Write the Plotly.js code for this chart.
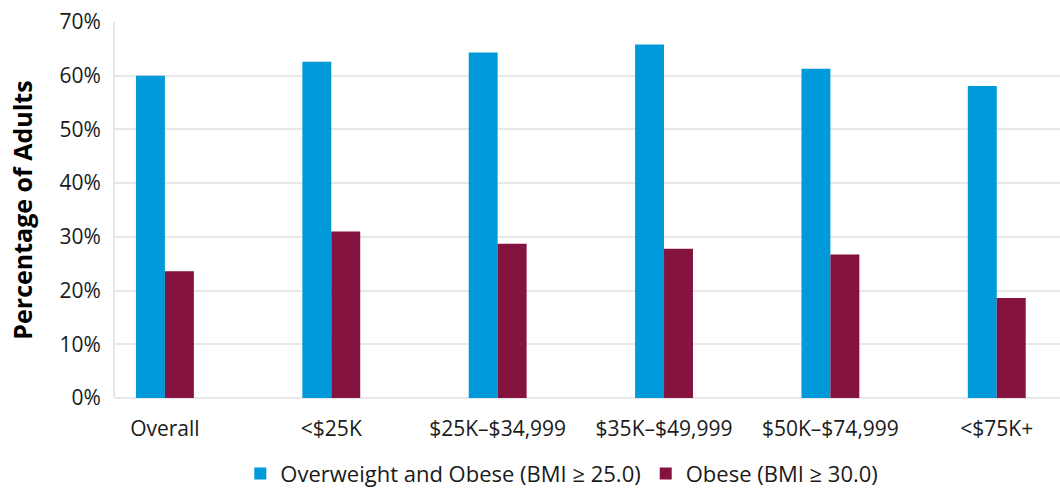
<!DOCTYPE html>
<html>
<head>
<meta charset="utf-8">
<script src="https://cdn.plot.ly/plotly-3.0.1.min.js"></script>
<style>html,body{margin:0;padding:0;background:#fff;}#chart{width:1060px;height:491px;}</style>
</head>
<body>
<div id="chart"></div>
<script>
const categories = ["Overall", "<$25K", "$25K–$34,999", "$35K–$49,999", "$50K–$74,999", "<$75K+"];
const overweightObese = [60.0, 62.6, 64.3, 65.8, 61.3, 58.1];
const obese = [23.6, 31.0, 28.7, 27.8, 26.7, 18.6];
const seriesNames = ["Overweight and Obese (BMI ≥ 25.0)", "Obese (BMI ≥ 30.0)"];
const yTickVals = [0, 10, 20, 30, 40, 50, 60, 70];
const yTickText = ["0%", "10%", "20%", "30%", "40%", "50%", "60%", "70%"];

const fontFam = "'Open Sans', 'Noto Sans', sans-serif";

const traces = [
  {type: "bar", x: categories, y: overweightObese, name: seriesNames[0],
   marker: {color: "#0099da"}, hoverinfo: "y"},
  {type: "bar", x: categories, y: obese, name: seriesNames[1],
   marker: {color: "#85133f"}, hoverinfo: "y"}
];

const layout = {
  width: 1060, height: 491,
  margin: {l: 115, r: 0, t: 22, b: 93, autoexpand: false},
  paper_bgcolor: "#fff", plot_bgcolor: "#fff",
  font: {family: fontFam, color: "#1a1a1a", size: 20},
  barmode: "group", bargap: 0.652, bargroupgap: 0,
  xaxis: {
    type: "category", range: [-0.3, 5.38],
    showgrid: false, zeroline: false, showline: false,
    ticks: "", ticklabelstandoff: 16,
    tickfont: {size: 21, family: fontFam, color: "#1a1a1a"},
    fixedrange: true
  },
  yaxis: {
    range: [0, 70], tickvals: yTickVals, ticktext: yTickText,
    showgrid: true, gridcolor: "#e8e8e8", gridwidth: 2,
    zeroline: true, zerolinecolor: "#e8e8e8", zerolinewidth: 2,
    showline: true, linecolor: "#e8e8e8", linewidth: 2,
    ticks: "", ticklabelstandoff: 8,
    tickfont: {size: 21, family: fontFam, color: "#1a1a1a"},
    title: {text: "Percentage of Adults", font: {size: 25, family: fontFam, color: "#000", weight: "bold"}, standoff: 20},
    fixedrange: true
  },
  legend: {
    orientation: "h", xref: "container", yref: "container",
    x: 0.53, xanchor: "center", y: 0.035, yanchor: "middle",
    font: {size: 22, family: fontFam, color: "#1a1a1a"},
    itemwidth: 30, tracegroupgap: 0, entrywidthmode: "pixels"
  },
  showlegend: true
};

Plotly.newPlot("chart", traces, layout, {displayModeBar: false, staticPlot: true});
</script>
</body>
</html>
